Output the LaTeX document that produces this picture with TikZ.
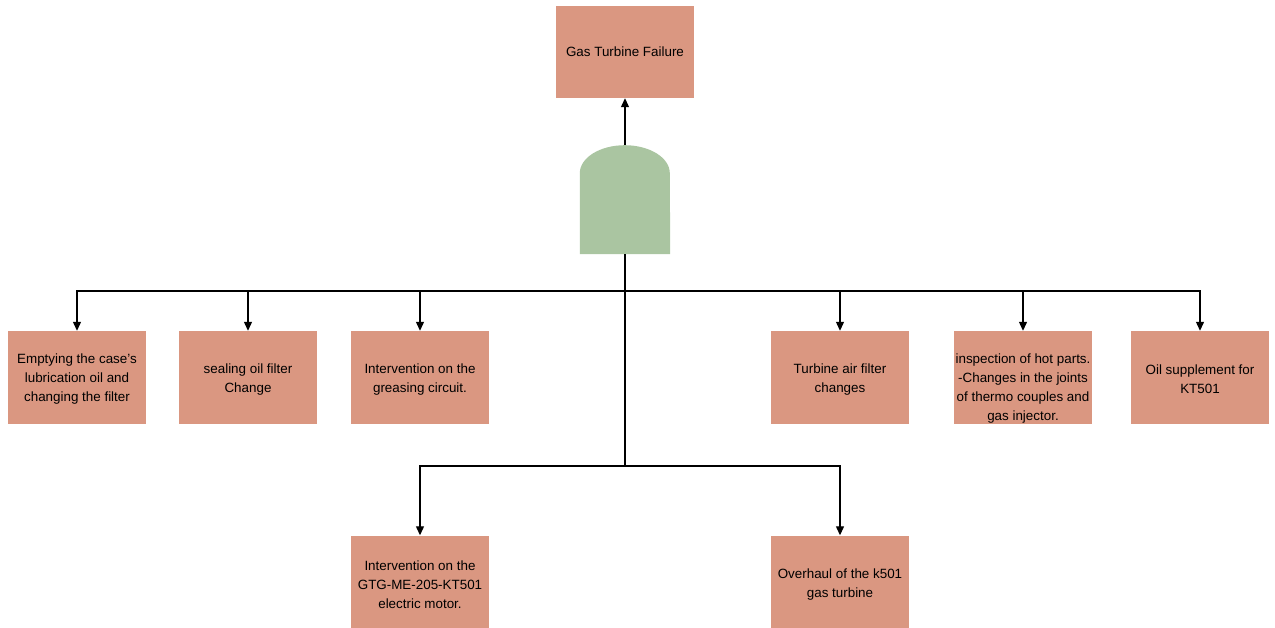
\documentclass[tikz,border=0pt]{standalone}
\usepackage{fontspec}
\setmainfont{Liberation Sans}
\usetikzlibrary{arrows.meta}
\definecolor{boxfill}{HTML}{DA9781}
\definecolor{gatefill}{HTML}{AAC5A1}
\begin{document}
\begin{tikzpicture}[x=1pt,y=-1pt,
  evtext/.style={align=center, font=\fontsize{13.4}{19}\selectfont},
  event/.style={rectangle, fill=boxfill, minimum width=138pt, minimum height=93pt,
    inner sep=0pt, evtext},
  conn/.style={draw=black, line width=1.2pt, -{Triangle[length=9pt,width=8pt]}},
  bus/.style={draw=black, line width=1.2pt}]
\useasboundingbox (0,0) rectangle (1275,628);

% top event
\node[event, minimum height=92pt] (top) at (625,52) {Gas Turbine Failure};

% AND gate body
\node[minimum width=90pt, minimum height=109pt, inner sep=0pt] (gate) at (625,199.5) {};
\fill[gatefill] (gate.south west) -- ++(0,-81)
  arc[start angle=180, end angle=0, x radius=45pt, y radius=28pt]
  -- (gate.south east) -- cycle;

% basic events, upper row
\node[event] (b1) at (77,377.5) {};
\node[evtext] at (77,379.5) {Emptying the case's\\lubrication oil and\\changing the filter};
\node[event] (b2) at (248,377.5) {};
\node[evtext] at (248,379.5) {sealing oil filter\\Change};
\node[event] (b3) at (420,377.5) {};
\node[evtext] at (420,379.5) {Intervention on the\\greasing circuit.};
\node[event] (b4) at (840,377.5) {};
\node[evtext] at (840,379.5) {Turbine air filter\\changes};
\node[event] (b5) at (1023,377.5) {};
\node[evtext] at (1023,388.5)
  {inspection of hot parts.\\-Changes in the joints\\of thermo couples and\\gas injector.};
\node[event] (b6) at (1200,377.5) {};
\node[evtext] at (1200,379.5) {Oil supplement for\\KT501};

% basic events, lower row
\node[event] (b7) at (420,582) {};
\node[evtext] at (420,585) {Intervention on the\\GTG-ME-205-KT501\\electric motor.};
\node[event] (b8) at (840,582) {};
\node[evtext] at (840,585) {Overhaul of the k501\\gas turbine};

% junctions
\coordinate (j1) at (625,291);
\coordinate (j2) at (625,466);

% gate output
\draw[conn] (gate.north) -- (top.south);

% gate inputs
\draw[bus] (gate.south) -- (j2);
\foreach \b in {b1,b2,b3,b4,b5,b6}
  \draw[conn] (j1) -| (\b.north);
\foreach \b in {b7,b8}
  \draw[conn] (j2) -| (\b.north);
\end{tikzpicture}
\end{document}
